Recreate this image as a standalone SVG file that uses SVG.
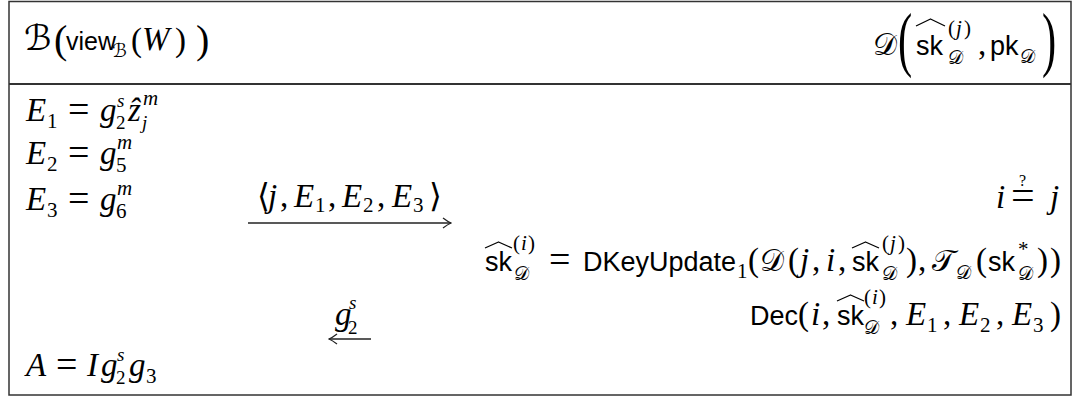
<svg xmlns="http://www.w3.org/2000/svg" width="1080" height="396" viewBox="0 0 1080 396">
<defs>
<style>
.frame{fill:none;stroke:#333;stroke-width:1.5}
.sep{stroke:#333;stroke-width:1.8}
.mi{font-family:"Liberation Serif","DejaVu Serif",serif;font-style:italic;font-size:33px;fill:#000}
.mr{font-family:"Liberation Serif","DejaVu Serif",serif;font-style:normal;font-size:33px;fill:#000}
.eq{font-size:38px}
.sf{font-family:"Liberation Sans",Arial,sans-serif;font-style:normal;font-size:27px;fill:#000}
.cal{font-family:"DejaVu Sans","DejaVu Serif","Noto Sans",serif;font-style:normal;font-size:30px;fill:#000}
.s{font-size:21px}
.ss{font-size:19px}
.cs{font-size:19px}
.hat{fill:none;stroke:#000;stroke-width:1.3;stroke-linejoin:round}
.arr{fill:none;stroke:#222;stroke-width:1.4}
</style>
<marker id="ah" viewBox="-9 -6 10 12" markerWidth="10" markerHeight="12" refX="0" refY="0" orient="auto" markerUnits="userSpaceOnUse">
<path d="M-8,-5 Q-3,-1.2 0,0 Q-3,1.2 -8,5" fill="none" stroke="#222" stroke-width="1.3"/>
</marker>
</defs>
<rect x="0" y="0" width="1080" height="396" fill="#fff"/>
<g id="frame">
<rect class="frame" x="9" y="1.5" width="1062" height="393.5"/>
<line class="sep" x1="9" y1="84" x2="1071" y2="84"/>
</g>
<g id="party-B">
<text class="mr"><tspan class="cal" x="24" y="50" style="font-size:35px">ℬ</tspan><tspan x="54" y="53" style="font-size:40px">(</tspan><tspan class="sf" x="66" y="50" style="font-size:25px">view</tspan><tspan class="cal cs" x="112" y="57">ℬ</tspan><tspan x="131" y="51">(</tspan><tspan class="mi" x="142" y="50">W</tspan><tspan x="175" y="51">)</tspan><tspan x="196" y="53" style="font-size:40px">)</tspan></text>
</g>
<g id="party-D">
<text class="cal" x="873" y="55">𝒟</text>
<text class="mr" transform="translate(898,63) scale(0.6,1)" style="font-size:71px">(</text>
<text class="mr"><tspan class="sf" x="916" y="55">sk</tspan><tspan class="s" x="948" y="35">(</tspan><tspan class="mi s" x="956" y="35">j</tspan><tspan class="s" x="964" y="35">)</tspan><tspan class="cal cs" x="948" y="64">𝒟</tspan><tspan x="978" y="55">,</tspan><tspan class="sf" x="990" y="55">pk</tspan><tspan class="cal cs" x="1020" y="63">𝒟</tspan></text>
<path class="hat" d="M916,26 L930.5,19 L945,26"/>
<text class="mr" transform="translate(1042,63) scale(0.6,1)" style="font-size:71px">)</text>
</g>
<g id="row-E1">
<text class="mi"><tspan x="26" y="121">E</tspan><tspan class="mr s" x="47" y="128">1</tspan><tspan class="mr eq" x="68" y="122">=</tspan><tspan x="100" y="121">g</tspan><tspan class="ss" x="117" y="107">s</tspan><tspan class="mr ss" x="116" y="129">2</tspan><tspan x="128" y="121">ẑ</tspan><tspan class="s" x="143" y="105">m</tspan><tspan class="ss" x="142" y="129">j</tspan></text>
</g>
<g id="row-E2">
<text class="mi"><tspan x="26" y="164">E</tspan><tspan class="mr s" x="47" y="171">2</tspan><tspan class="mr eq" x="68" y="165">=</tspan><tspan x="100" y="164">g</tspan><tspan class="s" x="117" y="149">m</tspan><tspan class="mr s" x="116" y="172">5</tspan></text>
</g>
<g id="row-E3">
<text class="mi"><tspan x="26" y="210">E</tspan><tspan class="mr s" x="47" y="217">3</tspan><tspan class="mr eq" x="68" y="211">=</tspan><tspan x="100" y="210">g</tspan><tspan class="s" x="117" y="195">m</tspan><tspan class="mr s" x="116" y="218">6</tspan></text>
</g>
<g id="check-ij">
<text class="mi"><tspan x="996" y="208">i</tspan><tspan class="mr" x="1011" y="209" style="font-size:42px">=</tspan><tspan class="mr" x="1019" y="186" style="font-size:16px">?</tspan><tspan x="1050" y="208">j</tspan></text>
</g>
<g id="key-update">
<text class="mr"><tspan class="sf" x="485" y="271">sk</tspan><tspan class="s" x="513" y="250">(</tspan><tspan class="mi s" x="521" y="250">i</tspan><tspan class="s" x="528" y="250">)</tspan><tspan class="cal cs" x="514" y="280">𝒟</tspan><tspan class="eq" x="549" y="272">=</tspan><tspan class="sf" x="583" y="271">DKeyUpdate</tspan><tspan class="s" x="737" y="278">1</tspan><tspan x="748" y="271">(</tspan><tspan class="cal" x="760" y="271">𝒟</tspan><tspan x="788" y="271">(</tspan><tspan class="mi" x="800" y="271">j</tspan><tspan x="812" y="271">,</tspan><tspan class="mi" x="826" y="271">i</tspan><tspan x="838" y="271">,</tspan><tspan class="sf" x="852" y="271">sk</tspan><tspan class="s" x="882" y="250">(</tspan><tspan class="mi s" x="890" y="250">j</tspan><tspan class="s" x="898" y="250">)</tspan><tspan class="cal cs" x="882" y="280">𝒟</tspan><tspan x="906" y="271">)</tspan><tspan x="918" y="271">,</tspan><tspan class="cal" x="932" y="271">𝒯</tspan><tspan class="cal cs" x="956" y="279">𝒟</tspan><tspan x="976" y="271">(</tspan><tspan class="sf" x="988" y="271">sk</tspan><tspan class="s" x="1018" y="256">*</tspan><tspan class="cal cs" x="1018" y="280">𝒟</tspan><tspan x="1037" y="271">)</tspan><tspan x="1050" y="271">)</tspan></text>
<path class="hat" d="M485,248 L498.5,242 L512,248"/>
<path class="hat" d="M852,248 L865.5,242 L879,248"/>
</g>
<g id="decrypt">
<text class="mr"><tspan class="sf" x="750" y="325">Dec</tspan><tspan x="798" y="325">(</tspan><tspan class="mi" x="811" y="325">i</tspan><tspan x="822" y="325">,</tspan><tspan class="sf" x="837" y="325">sk</tspan><tspan class="s" x="864" y="304">(</tspan><tspan class="mi s" x="872" y="304">i</tspan><tspan class="s" x="879" y="304">)</tspan><tspan class="cal cs" x="864" y="334">𝒟</tspan><tspan x="890" y="325">,</tspan><tspan class="mi" x="906" y="325">E</tspan><tspan class="s" x="927" y="332">1</tspan><tspan x="943" y="325">,</tspan><tspan class="mi" x="959" y="325">E</tspan><tspan class="s" x="980" y="332">2</tspan><tspan x="996" y="325">,</tspan><tspan class="mi" x="1012" y="325">E</tspan><tspan class="s" x="1033" y="332">3</tspan><tspan x="1050" y="325">)</tspan></text>
<path class="hat" d="M837,301 L850.5,295 L864,301"/>
</g>
<g id="row-A">
<text class="mi"><tspan x="26" y="376">A</tspan><tspan class="mr eq" x="56" y="377">=</tspan><tspan x="87" y="376">I</tspan><tspan x="101" y="376">g</tspan><tspan class="ss" x="117" y="361">s</tspan><tspan class="mr ss" x="116" y="384">2</tspan><tspan x="129" y="376">g</tspan><tspan class="mr s" x="146" y="383">3</tspan></text>
</g>
<g id="connectors">
<path class="arr" d="M248,223 H451" marker-end="url(#ah)"/>
<text class="mr"><tspan x="257" y="207">⟨</tspan><tspan class="mi" x="268" y="207">j</tspan><tspan x="280" y="207">,</tspan><tspan class="mi" x="294" y="207">E</tspan><tspan class="s" x="315" y="212">1</tspan><tspan x="328" y="207">,</tspan><tspan class="mi" x="342" y="207">E</tspan><tspan class="s" x="363" y="212">2</tspan><tspan x="377" y="207">,</tspan><tspan class="mi" x="392" y="207">E</tspan><tspan class="s" x="413" y="212">3</tspan><tspan x="429" y="207">⟩</tspan></text>
<path class="arr" d="M371,339 H329" marker-end="url(#ah)"/>
<text class="mi"><tspan x="335" y="325">g</tspan><tspan class="ss" x="349" y="309">s</tspan><tspan class="mr ss" x="348" y="334">2</tspan></text>
</g>
</svg>
